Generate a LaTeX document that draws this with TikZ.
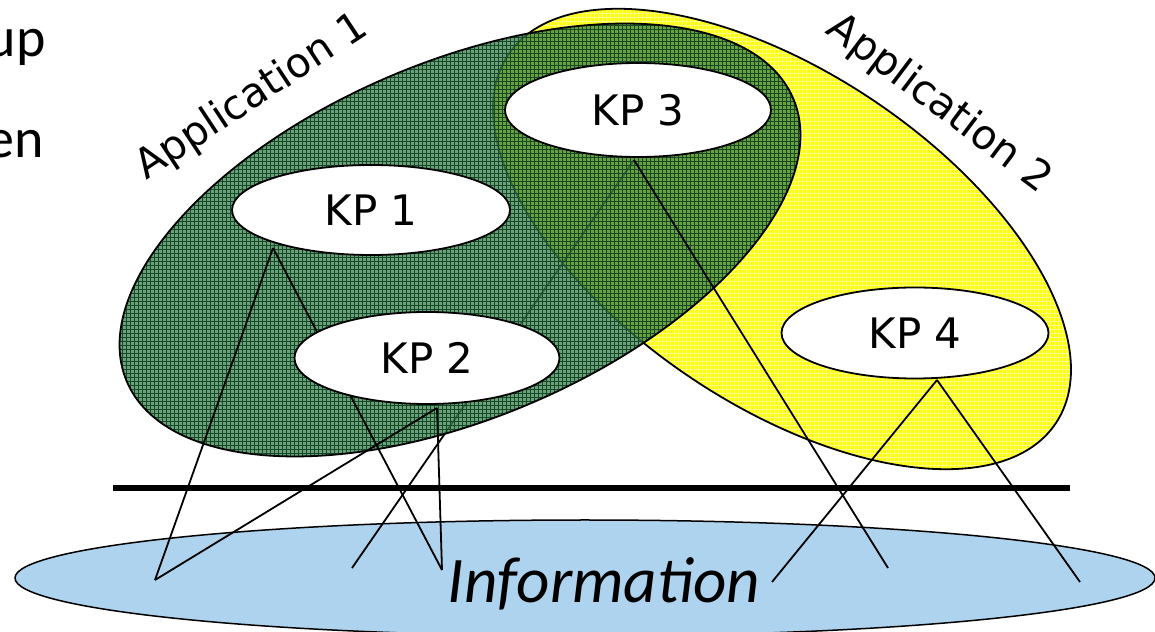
\documentclass[tikz,border=0pt]{standalone}
\usepackage{fontspec}
\setmainfont{DejaVu Sans}
\newfontfamily\infofont{Carlito}
\usetikzlibrary{shapes.geometric,patterns.meta}

\pgfdeclarelayer{under}
\pgfdeclarelayer{tint}
\pgfdeclarelayer{wires}
\pgfsetlayers{under,tint,wires,main}

\definecolor{appgreen}{RGB}{66,132,84}
\definecolor{gridgreen}{RGB}{18,74,38}
\definecolor{appyellow}{RGB}{255,255,0}
\definecolor{gridyellow}{RGB}{255,255,140}
\definecolor{infoblue}{RGB}{174,211,238}

\tikzdeclarepattern{
  name=finegrid,
  type=uncolored,
  bounding box={(-0.5pt,-0.5pt) and (4.5pt,4.5pt)},
  tile size={(4pt,4pt)},
  code={
    \pgfsetlinewidth{0.6pt}
    \pgfpathmoveto{\pgfqpoint{0pt}{2pt}}\pgfpathlineto{\pgfqpoint{4pt}{2pt}}
    \pgfpathmoveto{\pgfqpoint{2pt}{0pt}}\pgfpathlineto{\pgfqpoint{2pt}{4pt}}
    \pgfusepath{stroke}
  }
}

\begin{document}
\begin{tikzpicture}[x=1pt, y=1pt,
  kp/.style={ellipse, draw, line width=1.8pt, fill=white, inner sep=0pt, font=\fontsize{42}{48}\selectfont},
  app/.style={anchor=base, inner sep=0pt, font=\fontsize{41}{48}\selectfont},
  w/.style={line width=1.8pt},
  cut/.style={anchor=base east, inner sep=0pt, font=\infofont\fontsize{56}{64}\selectfont}]
  \useasboundingbox (0,0) rectangle (1155,631);

  \node[cut] (up) at (46,574) {up};
  \node[cut] (en) at (44,473) {en};

  \node[kp, minimum width=278pt, minimum height=90pt] (kp1) at (371,421) {KP 1};
  \node[kp, minimum width=265pt, minimum height=92pt] (kp2) at (427,273) {KP 2};
  \node[kp, minimum width=266pt, minimum height=94pt] (kp3) at (638,521) {KP 3};
  \node[kp, minimum width=267pt, minimum height=91pt] (kp4) at (915,298) {KP 4};

  \node[app, rotate=33.4] (app1) at (258,524) {Application 1};
  \node[app, rotate=-37] (app2) at (932,518) {Application 2};

  \coordinate (f1) at (273,383);
  \coordinate (f2) at (437,223);
  \coordinate (f3) at (634,471);
  \coordinate (f4) at (937,251);
  \coordinate (e1) at (155,51);
  \coordinate (e2) at (352,63);
  \coordinate (e3) at (442,61);
  \coordinate (e4) at (888,63);
  \coordinate (e5) at (772,49);
  \coordinate (e6) at (1080,49);
  \coordinate (barl) at (113,143);
  \coordinate (barr) at (1070,143);

  \begin{pgfonlayer}{under}
    \node[ellipse, draw, line width=1.5pt, fill=infoblue, minimum width=1140pt, minimum height=116pt] (info) at (585,53) {};
    \path[fill=appyellow, postaction={pattern=finegrid, pattern color=gridyellow}]
      (782,392) ellipse[x radius=330, y radius=166, rotate=-34];
    \draw[line width=1.8pt] (782,392) ellipse[x radius=330, y radius=166, rotate=-34];
    \draw[w] (f3) -- (e2);
  \end{pgfonlayer}

  \begin{pgfonlayer}{tint}
    \path[fill=appgreen, fill opacity=0.78, postaction={pattern=finegrid, pattern color=gridgreen, fill opacity=0.78}]
      (460,391) ellipse[x radius=362, y radius=178, rotate=23];
    \draw[line width=1.8pt] (460,391) ellipse[x radius=362, y radius=178, rotate=23];
  \end{pgfonlayer}

  \begin{pgfonlayer}{wires}
    \draw[line width=6pt] (barl) -- (barr);
    \draw[w] (f1) -- (e1);
    \draw[w] (f1) -- (e3);
    \draw[w] (f2) -- (e1);
    \draw[w] (f2) -- (e3);
    \draw[w] (f3) -- (e4);
    \draw[w] (f4) -- (e5);
    \draw[w] (f4) -- (e6);
  \end{pgfonlayer}

  \node[anchor=base, inner sep=0pt, font=\infofont\itshape\fontsize{65}{72}\selectfont] (infotext) at (604,28) {Information};
\end{tikzpicture}
\end{document}
